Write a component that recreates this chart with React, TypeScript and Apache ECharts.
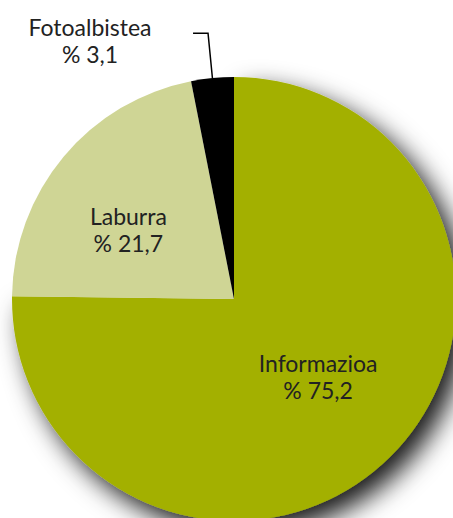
import React, { useEffect, useRef } from "react";
import * as echarts from "echarts";

const categories = ["Informazioa", "Laburra", "Fotoalbistea"];
const values = [75.2, 21.7, 3.1];
const valueLabels = ["% 75,2", "% 21,7", "% 3,1"];
const colors = ["#a3b000", "#cfd595", "#000000"];

export default function App() {
  const ref = useRef<HTMLDivElement>(null);
  useEffect(() => {
    document.body.style.margin = "0";
    const chart = echarts.init(ref.current!, null, { renderer: "svg" });
    const center = [234, 299];
    const radius = 222;
    const font = { fontFamily: "Lato", fontWeight: 400, fontSize: 23, color: "#222222", lineHeight: 27 };
    chart.setOption({
      animation: false,
      backgroundColor: "#ffffff",
      series: [
        {
          type: "pie",
          z: 2,
          center,
          radius,
          startAngle: 90,
          clockwise: true,
          avoidLabelOverlap: false,
          itemStyle: { borderWidth: 0 },
          data: categories.map((c, i) => {
            const inside = i < 2;
            return {
              name: c,
              value: values[i],
              itemStyle:
                i === 0
                  ? {
                      color: colors[i],
                      shadowBlur: 26,
                      shadowOffsetX: 11,
                      shadowOffsetY: 12,
                      shadowColor: "rgba(0,0,0,0.9)",
                    }
                  : { color: colors[i] },
              label: inside
                ? {
                    show: true,
                    position: "inside",
                    formatter: `${c}\n${valueLabels[i]}`,
                    align: "center",
                    ...font,
                  }
                : {
                    show: true,
                    position: "outside",
                    formatter: `{a|${c}}\n{a|${valueLabels[i]}}`,
                    distanceToLabelLine: 37,
                    rich: { a: { ...font, width: 132, align: "center" } },
                    ...font,
                  },
              labelLine: inside
                ? { show: false }
                : { show: true, length: 45, length2: 15, lineStyle: { color: "#000", width: 1.5 } },
            };
          }),
          labelLayout: (params: any) => {
            if (params.dataIndex === 0) return { dx: 4, dy: -4 };
            if (params.dataIndex === 1) return { dx: -18, dy: 3 };
            return { dy: 7 };
          },
        },
      ],
    });
    return () => chart.dispose();
  }, []);
  return <div ref={ref} style={{ width: 453, height: 518 }} />;
}
